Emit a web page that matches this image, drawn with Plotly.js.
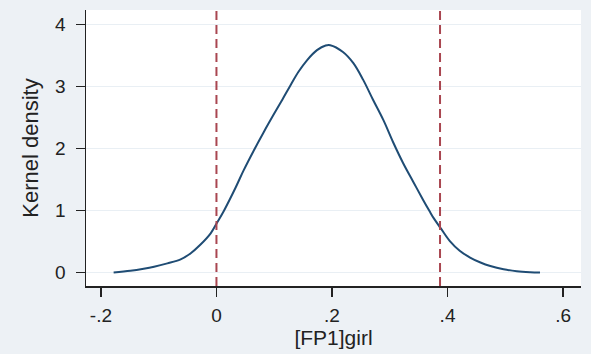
<!DOCTYPE html>
<html>
<head>
<meta charset="utf-8">
<script src="https://cdn.plot.ly/plotly-3.0.1.min.js"></script>
<style>
  html, body { margin: 0; padding: 0; background: #edf1f5; }
  #chart { width: 591px; height: 354px; }
</style>
</head>
<body>
<div id="chart"></div>
<script>
// Kernel density estimate of the [FP1]girl coefficient
const densityX = [-0.178, -0.149, -0.126, -0.108, -0.085, -0.062, -0.045, -0.028, -0.010, 0.000,
                  0.013, 0.033, 0.047, 0.064, 0.082, 0.099, 0.114, 0.128, 0.142, 0.157,
                  0.174, 0.189, 0.197, 0.219, 0.237, 0.254, 0.271, 0.289, 0.306, 0.323,
                  0.341, 0.358, 0.369, 0.376, 0.388, 0.404, 0.421, 0.439, 0.457, 0.474,
                  0.497, 0.520, 0.543, 0.560];
const densityY = [0.005, 0.032, 0.065, 0.097, 0.150, 0.215, 0.310, 0.450, 0.635, 0.790,
                  1.000, 1.370, 1.650, 1.960, 2.270, 2.550, 2.790, 3.020, 3.240, 3.430,
                  3.590, 3.665, 3.670, 3.560, 3.380, 3.110, 2.790, 2.460, 2.100, 1.770,
                  1.460, 1.170, 0.990, 0.880, 0.720, 0.510, 0.355, 0.245, 0.165, 0.108,
                  0.055, 0.023, 0.008, 0.003];

// Reference lines (interval bounds)
const refLines = [0.000, 0.387];

// Axis ticks
const xTickVals = [-0.2, 0, 0.2, 0.4, 0.6];
const xTickText = ['-.2', '0', '.2', '.4', '.6'];
const yTickVals = [0, 1, 2, 3, 4];
const yTickText = ['0', '1', '2', '3', '4'];

const FONT = '"Liberation Sans", Arial, Helvetica, sans-serif';
const BG = '#edf1f5';
const INK = '#222222';

const traces = [{
  type: 'scatter',
  mode: 'lines',
  x: densityX,
  y: densityY,
  line: { color: '#1f4c74', width: 2, shape: 'spline', smoothing: 1 },
  hoverinfo: 'skip',
  showlegend: false
}];

const shapes = refLines.map(v => ({
  type: 'line',
  xref: 'x', yref: 'paper',
  x0: v, x1: v, y0: 0, y1: 1,
  line: { color: '#a94650', width: 2, dash: '9px,5px' },
  layer: 'above'
}));

const layout = {
  width: 591,
  height: 354,
  margin: { l: 86, r: 10, t: 10, b: 68, pad: 0 },
  paper_bgcolor: BG,
  plot_bgcolor: '#ffffff',
  font: { family: FONT, size: 19, color: INK },
  showlegend: false,
  shapes: shapes,
  xaxis: {
    range: [-0.2258, 0.631],
    tickmode: 'array',
    tickvals: xTickVals,
    ticktext: xTickText,
    ticks: 'outside',
    ticklen: 9,
    tickwidth: 1.5,
    tickcolor: INK,
    ticklabelstandoff: 3,
    showline: true,
    linecolor: INK,
    linewidth: 1.5,
    showgrid: false,
    zeroline: false,
    tickfont: { family: FONT, size: 19, color: INK },
    title: { text: '[FP1]girl', font: { family: FONT, size: 21, color: INK }, standoff: 4 },
    automargin: false
  },
  yaxis: {
    range: [-0.2145, 4.237],
    tickmode: 'array',
    tickvals: yTickVals,
    ticktext: yTickText,
    ticks: 'outside',
    ticklen: 9,
    tickwidth: 1.5,
    tickcolor: INK,
    ticklabelstandoff: 6,
    showline: true,
    linecolor: INK,
    linewidth: 1.5,
    showgrid: true,
    gridcolor: '#e9eff4',
    gridwidth: 1.2,
    zeroline: false,
    tickfont: { family: FONT, size: 19, color: INK },
    title: { text: 'Kernel density', font: { family: FONT, size: 22, color: INK }, standoff: 10 },
    automargin: false
  }
};

Plotly.newPlot('chart', traces, layout, { displayModeBar: false, staticPlot: true });
</script>
</body>
</html>
